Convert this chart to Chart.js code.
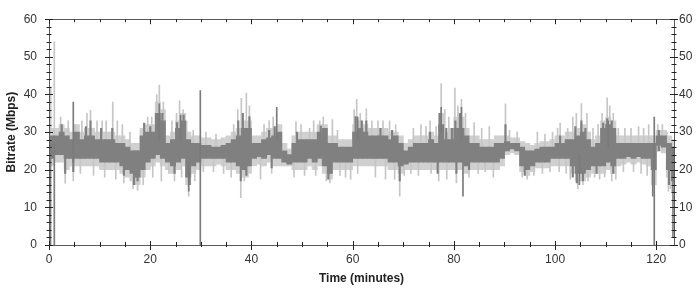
<!DOCTYPE html>
<html>
<head>
<meta charset="utf-8">
<script src="https://cdn.jsdelivr.net/npm/chart.js@4/dist/chart.umd.min.js"></script>
<style>
  html, body { margin: 0; padding: 0; background: #fff; }
  #wrap { width: 700px; height: 290px; position: relative; }
</style>
</head>
<body>
<div id="wrap"><canvas id="bitrate-chart"></canvas></div>
<script>
// one bin per minute of the recording (minute 0..123)
const lightLow = [
  21, 22, 22, 20, 21, 21, 21, 21, 21, 21,
  20, 20, 20, 20, 19, 18, 17, 16, 18, 20,
  21, 22, 21, 20, 19, 20, 21, 16, 19, 20,
  21, 21, 21, 21.5, 21, 20, 20, 19, 18, 19,
  21, 21.5, 21, 22, 21, 21, 21, 21, 20, 20,
  20, 21, 20, 21, 19, 17.5, 20, 20, 20, 20,
  21, 21, 21, 21, 21, 21, 21, 20, 20, 19,
  20, 20, 20, 20, 20, 20, 20, 20, 20, 20,
  20, 20, 19, 20, 20, 20, 20, 20, 20, 21,
  24, 24.5, 24, 19.5, 18.5, 19.5, 20.5, 20.5, 20.5, 21,
  21, 21, 21, 19, 17, 17, 18, 19, 19, 19,
  20, 19, 21, 21.5, 22, 21.5, 22, 21.5, 21, 16,
  25, 24.5, 18, 14
];
const darkLow = [
  23, 24, 24, 23, 23, 23, 23, 23, 23, 23,
  22, 22, 22, 22, 21, 20, 19, 18, 20, 22,
  23, 24, 23, 22, 21, 22, 23, 18, 21, 22,
  23, 23, 23, 23, 23, 22, 22, 21, 20, 21,
  23, 23.5, 23, 24, 23, 23, 22, 21.5, 22, 22,
  22, 23, 22, 23, 21, 19, 22, 22, 22, 22,
  23, 23, 23, 23, 23, 23, 23, 22, 22, 21,
  21.5, 22, 22, 22, 22, 22, 22, 22, 22, 22,
  22, 22, 21, 22, 22, 22, 22, 22, 22, 23,
  25, 25.5, 25, 21, 20, 21, 22, 22, 22, 23,
  23, 23, 23, 21, 19, 19, 20, 21, 21, 21,
  22, 21, 23, 23, 23.5, 23, 23.5, 23, 23, 20,
  26.5, 26, 20, 17
];
const darkHigh = [
  29, 29, 30, 29, 28, 30, 28, 29, 29, 28,
  28, 28, 28, 27, 27, 26, 25, 25, 29, 30,
  30, 35, 33, 27, 28, 31, 33, 28, 27, 27,
  26.5, 26.5, 26, 26, 26.5, 27, 28, 29, 31, 31,
  27, 27, 28, 28.5, 29, 30, 25, 24, 27, 28,
  28, 28, 28, 30, 31, 27, 27, 26, 26, 26,
  30, 31, 30, 29, 29, 29, 29, 28, 29, 27,
  25, 26, 27, 27, 27, 28, 27, 32, 28, 28,
  31, 31, 29, 27, 27, 26, 26, 26, 27, 27,
  27.5, 27, 27, 26, 25, 25, 25.5, 26, 26, 26,
  27, 27, 28, 28, 29, 30, 28, 26, 27, 31,
  32, 31, 27, 27, 27, 27, 27, 27, 27, 27,
  29, 29, 27, 26
];
const lightHigh = [
  31, 31, 32, 31, 30, 32, 30, 31, 31, 30,
  30, 30, 30, 29, 29, 28, 27, 27, 31, 32,
  32, 38, 36, 29, 30, 33, 35, 30, 29, 29,
  28.5, 28.5, 28, 28, 28.5, 29, 30, 31, 33, 33,
  29, 29, 30, 31, 31, 32, 27, 25.5, 29, 30,
  30, 30, 30, 32, 32, 29, 29, 28, 28, 28,
  32, 33, 32, 31, 31, 31, 31, 30, 30, 29,
  27, 28, 29, 29, 29, 30, 29, 35, 30, 31,
  34, 34, 31, 29, 29, 28, 28, 28, 29, 29,
  29, 28.5, 28.5, 27.5, 27, 26.5, 27, 27.5, 27.5, 28,
  29, 29, 30, 30, 31, 32, 30, 28, 29, 33,
  34, 33, 29, 29, 29, 29, 29, 29, 29, 29,
  30.5, 30.5, 29, 28
];

// single light samples that stick up out of the band (minute, peak)
const upSpikeMin = [
  0.35, 1.05, 2.3, 3.8, 5.2, 6.5, 7.5, 8.2, 9.5, 10.5, 11.3, 12.6, 13.5, 14.5, 16,
  19.5, 20.3, 21.3, 21.8, 22.6, 24.3, 25.2, 25.8, 26.5, 27.2, 28.5, 31, 33,
  36.5, 37.3, 38, 39, 39.6, 42.5, 43.5, 44.3, 48.8, 49.8, 51.5, 52.3,
  53.5, 54.2, 56, 57, 60.3, 60.8, 61.5, 62.7, 63.8, 65, 66, 67.3, 68.5,
  72, 73.5, 74.5, 75.3, 76.5, 77.5, 78.2, 79, 80.2, 80.8, 81.5, 82.3, 84, 85.5, 87,
  90.2, 91, 92.5, 96.5, 98, 99.5, 100.5, 101, 102.5, 103.5, 104.2, 105.2, 106.3,
  107.5, 108.5, 109.3, 110.3, 110.8, 111.5, 112.5, 113.8, 115, 116.5, 117.5, 118.5, 120.3, 121.2, 122.1
];
const upSpikeTop = [
  42, 54, 34, 33, 32, 33, 35, 35.8, 33, 33, 33, 38, 33, 32, 30,
  34, 34, 40, 42.5, 38, 33, 35, 38.3, 36, 33, 30.5, 30, 29.5,
  32, 36, 39, 40.4, 37, 32, 33, 34, 32.8, 32, 31, 33,
  33, 34, 33.3, 30.5, 36, 38.7, 35, 36.2, 33, 33, 33, 33, 32,
  31, 32, 31.5, 33, 31.5, 42.9, 36, 34, 41.7, 37, 38.7, 35, 32.5, 31, 31.5,
  37.5, 30.5, 30, 30, 29.5, 30, 31, 32.4, 31, 34, 35, 37.6, 35,
  31, 32, 35, 39.1, 37, 35, 31, 31, 31, 31.5, 31, 32, 32, 32, 30
];
// single light samples that drop below the band (minute, trough)
const downSpikeMin = [
  3.2, 4.8, 6.2, 8.8, 11, 13.2, 14.8, 16.6, 17.5, 18.6,
  20.5, 22.2, 23.7, 24.8, 26.2, 27.6, 28.8, 30.5, 32.5, 34.5,
  36, 37.9, 38.6, 39.3, 41.8, 44, 48.4, 50.5, 52.7,
  54.8, 55.5, 57.5, 58.6, 59.6, 61, 64.5, 66.5, 68.3, 69.3, 70.2,
  71.5, 73, 75.5, 77, 78.6, 80.5, 83, 84.8, 86.2, 87.8,
  93.5, 94.5, 95.8, 97.5, 99, 100.8, 102.2, 103, 104.5, 105.5, 106.5,
  107.8, 108.8, 109.8, 111.2, 112, 113.5, 115.5, 117, 118.2, 122.4, 122.8
];
const downSpikeBottom = [
  16.4, 17, 19, 18.5, 18, 17.5, 16.5, 15, 14.5, 16,
  18, 17, 19, 17, 18, 13, 17, 19.5, 19.5, 19,
  18, 12.6, 17, 18, 17.5, 19, 18, 18.5, 18.5,
  17, 16.5, 18.5, 18, 17.5, 19, 18, 17.5, 17.5, 13, 18.5,
  19, 18.5, 19, 17, 17.5, 16.5, 18, 19, 19.5, 18,
  18, 17.5, 18.5, 19, 19.5, 19.5, 19, 17.5, 15, 16, 17,
  18, 17.5, 18, 17, 17.5, 19.5, 19.5, 19, 18.5, 14.3, 15
];

// darker samples poking out of the dense core
const darkUpMin = [
  2.5, 7.3, 8.2, 10.3, 12.5, 18.8, 20, 22.4, 25.3, 26.6, 37.4, 38.3, 39.6, 43.5, 44.6, 49,
  53.7, 60.6, 61.8, 62.7, 65.5, 67.8, 75.3, 77.2, 78.5, 79.6, 80.3, 81.2, 90.2, 101,
  104, 105.2, 106, 109.5, 110.3, 111.2, 120.5
];
const darkUpTop = [
  32, 31.5, 33, 31, 31, 32.4, 31.5, 35, 32.5, 34.5, 33, 35, 34.1, 30.5, 31.5, 30,
  31.6, 34.1, 33, 33, 31, 30.5, 30, 35, 31, 31, 33, 35, 32, 29,
  31.5, 33, 31, 32.4, 33.5, 33, 30.5
];
const darkDownMin = [
  3.2, 4.8, 14.8, 16.8, 17.5, 24.8, 27.8, 37.9, 39, 44, 55.2, 69.3, 76.8, 80.5, 83,
  94, 103.5, 104.3, 105.5, 108.2, 111.5, 122.5
];
const darkDownBottom = [
  19, 19.5, 18.5, 16, 17, 19, 16, 17, 18.5, 20.5, 17.5, 17, 19, 19, 20,
  18.5, 18, 16.5, 17, 19, 19, 16
];

// darker single samples (dropouts and strong peaks)
const darkSpikeMin  = [0.3, 1.05, 29.9, 119.6, 123.3, 4.8, 21.8, 26, 45, 61, 77.5, 81.5, 27.6, 81.8, 119.3, 104.8, 110.5];
const darkSpikeLow  = [0,   0,    0,    0,     2,     22,  28,   28, 28, 28, 30,   28,   14.3, 13,   13,    16,    26];
const darkSpikeHigh = [27,  27,   41,   34,    26,    38,  37.5, 34.5, 36.6, 34, 36.6, 36.6, 22, 22,  20,    24,    33];

const xTicks = [0, 20, 40, 60, 80, 100, 120];
const yTicks = [0, 10, 20, 30, 40, 50, 60];
const xMax = 123.5;
const bandMid = 25;

function bins(lo, hi) {
  return lo.map((v, i) => ({ x: i + 0.5, y: [v, hi[i]] }));
}
function spikes(mins, lo, hi) {
  return mins.map((m, i) => ({ x: m, y: [lo[i], hi[i]] }));
}
function fromBand(mins, ends) {
  return mins.map((m, i) => ({ x: m, y: [Math.min(bandMid, ends[i]), Math.max(bandMid, ends[i])] }));
}

const tickFont = { family: "'Liberation Sans', Arial, sans-serif", size: 12 };
const titleFont = { family: "'Liberation Sans', Arial, sans-serif", size: 12, weight: 'bold' };

// box round the plot with ticks on all four sides
const framePlugin = {
  id: 'frame',
  afterDatasetsDraw(chart) {
    const { ctx, chartArea: a, scales } = chart;
    const x = scales.x, y = scales.y;
    ctx.save();
    ctx.strokeStyle = '#5a5a5a';
    ctx.lineWidth = 1;
    ctx.strokeRect(Math.round(a.left) + 0.5, Math.round(a.top) + 0.5,
      Math.round(a.right - a.left), Math.round(a.bottom - a.top));
    ctx.strokeStyle = '#222';
    ctx.beginPath();
    for (let v = 0; v <= 120; v += 5) {
      const px = Math.round(x.getPixelForValue(v)) + 0.5;
      const major = xTicks.includes(v);
      ctx.moveTo(px, a.bottom - (major ? 4 : 3));
      ctx.lineTo(px, a.bottom + (major ? 5 : 2));
      ctx.moveTo(px, a.top);
      ctx.lineTo(px, a.top + (major ? 5 : 3));
    }
    for (let v = 0; v <= 60; v += 2) {
      const py = Math.round(y.getPixelForValue(v)) + 0.5;
      const major = yTicks.includes(v);
      const d = major ? 4 : 2.5;
      ctx.moveTo(a.left - d, py);
      ctx.lineTo(a.left + d, py);
      ctx.moveTo(a.right - d, py);
      ctx.lineTo(a.right + d, py);
    }
    ctx.stroke();
    ctx.restore();
  }
};

const thin = { barThickness: 1, grouped: false };
const mid = { barThickness: 1.5, grouped: false };
const wide = { barThickness: 5.3, grouped: false };

new Chart(document.getElementById('bitrate-chart'), {
  type: 'bar',
  data: {
    datasets: [
      { data: spikes(darkSpikeMin, darkSpikeLow, darkSpikeHigh), backgroundColor: '#7a7a7a', order: 0, ...thin },
      { data: fromBand(darkUpMin, darkUpTop), backgroundColor: '#808080', order: 1, ...mid },
      { data: fromBand(darkDownMin, darkDownBottom), backgroundColor: '#808080', order: 2, ...mid },
      { data: bins(darkLow, darkHigh), backgroundColor: '#808080', order: 3, ...wide },
      { data: fromBand(upSpikeMin, upSpikeTop), backgroundColor: '#c6c6c6', order: 4, ...thin },
      { data: fromBand(downSpikeMin, downSpikeBottom), backgroundColor: '#c6c6c6', order: 5, ...thin },
      { data: bins(lightLow, lightHigh), backgroundColor: '#d0d0d0', order: 6, ...wide },
    ],
  },
  options: {
    responsive: true,
    maintainAspectRatio: false,
    animation: false,
    events: [],
    layout: { padding: { top: 7, right: 0, left: 0, bottom: 0 } },
    plugins: { legend: { display: false }, tooltip: { enabled: false } },
    scales: {
      x: {
        type: 'linear',
        min: 0,
        max: xMax,
        offset: false,
        grid: { display: false, drawTicks: false },
        border: { display: false },
        ticks: { stepSize: 20, includeBounds: false, padding: 7, color: '#333', font: tickFont, maxRotation: 0 },
        title: { display: true, text: 'Time (minutes)', color: '#222', font: titleFont, padding: { top: 0, bottom: 4 } },
        afterFit(scale) { scale.height = 45; },
      },
      y: {
        min: 0,
        max: 60,
        grid: { display: false, drawTicks: false },
        border: { display: false },
        ticks: { stepSize: 10, padding: 12, color: '#333', font: tickFont },
        title: { display: true, text: 'Bitrate (Mbps)', color: '#222', font: titleFont, padding: { top: 4, bottom: 0 } },
        afterFit(scale) { scale.width = 49; },
      },
      y2: {
        position: 'right',
        min: 0,
        max: 60,
        grid: { display: false, drawTicks: false },
        border: { display: false },
        ticks: { stepSize: 10, padding: 5, color: '#333', font: tickFont },
        afterFit(scale) { scale.width = 26; },
      },
    },
  },
  plugins: [framePlugin],
});
</script>
</body>
</html>
